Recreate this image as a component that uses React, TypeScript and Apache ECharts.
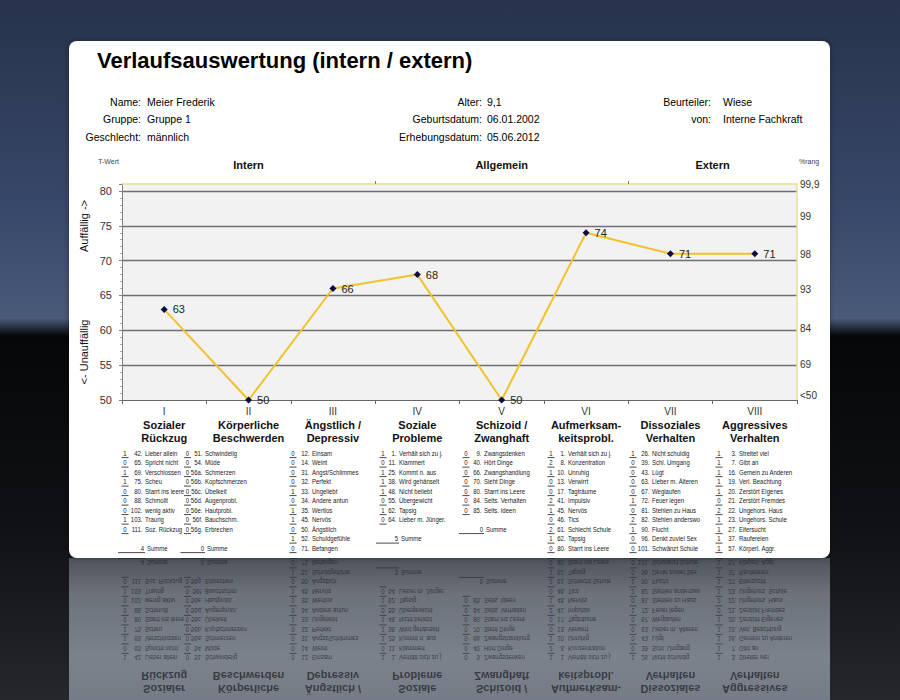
import React, { useEffect, useRef } from 'react';
import * as echarts from 'echarts';

const FONT = "'Liberation Sans', Arial, sans-serif";

const categoriesRoman = ['I', 'II', 'III', 'IV', 'V', 'VI', 'VII', 'VIII'];
const categoryNames = [
  ['Sozialer', 'Rückzug'],
  ['Körperliche', 'Beschwerden'],
  ['Ängstlich /', 'Depressiv'],
  ['Soziale', 'Probleme'],
  ['Schizoid /', 'Zwanghaft'],
  ['Aufmerksam-', 'keitsprobl.'],
  ['Dissoziales', 'Verhalten'],
  ['Aggressives', 'Verhalten'],
];
const tValues = [63, 50, 66, 68, 50, 74, 71, 71];

const rightLabels = ['<50', '69', '84', '93', '98', '99', '99,9'];
const rightLabelPos = [50.6, 55.1, 60.3, 65.9, 70.9, 76.3, 81];

const sections = ['Intern', 'Allgemein', 'Extern'];
const sectionCenters = [1.5, 4.5, 7];
const sectionBounds = [3, 6];

const infoLeftLabels = ['Name:', 'Gruppe:', 'Geschlecht:'];
const infoLeftValues = ['Meier Frederik', 'Gruppe 1', 'männlich'];
const infoMidLabels = ['Alter:', 'Geburtsdatum:', 'Erhebungsdatum:'];
const infoMidValues = ['9,1', '06.01.2002', '05.06.2012'];
const infoRightLabels = ['Beurteiler:', 'von:'];
const infoRightValues = ['Wiese', 'Interne Fachkraft'];

type Item = [number, string, string];
const colI: Item[] = [
  [1, '42.', 'Lieber allein'], [0, '65.', 'Spricht nicht'], [1, '69.', 'Verschlossen'],
  [1, '75.', 'Scheu'], [0, '80.', 'Starrt ins leere'], [0, '88.', 'Schmollt'],
  [0, '102.', 'wenig aktiv'], [1, '103.', 'Traurig'], [0, '111.', 'Soz. Rückzug'],
];
const colII: Item[] = [
  [0, '51.', 'Schwindelig'], [0, '54.', 'Müde'], [0, '56a.', 'Schmerzen'],
  [0, '56b.', 'Kopfschmerzen'], [0, '56c.', 'Übelkeit'], [0, '56d.', 'Augenprobl.'],
  [0, '56e.', 'Hautprobl.'], [0, '56f.', 'Bauchschm.'], [0, '56g.', 'Erbrechen'],
];
const colIII: Item[] = [
  [0, '12.', 'Einsam'], [0, '14.', 'Weint'], [0, '31.', 'Angst/Schlimmes'],
  [0, '32.', 'Perfekt'], [1, '33.', 'Ungeliebt'], [0, '34.', 'Andere antun'],
  [1, '35.', 'Wertlos'], [1, '45.', 'Nervös'], [0, '50.', 'Ängstlich'],
  [1, '52.', 'Schuldgefühle'], [0, '71.', 'Befangen'],
];
const colIV: Item[] = [
  [1, '1.', 'Verhält sich zu j.'], [0, '11.', 'Klammert'], [1, '25.', 'Kommt n. aus'],
  [1, '38.', 'Wird gehänselt'], [1, '48.', 'Nicht beliebt'], [0, '55.', 'Übergewicht'],
  [1, '62.', 'Tapsig'], [0, '64.', 'Lieber m. Jünger.'],
];
const colV: Item[] = [
  [0, '9.', 'Zwangsdenken'], [0, '40.', 'Hört Dinge'], [0, '66.', 'Zwangshandlung'],
  [0, '70.', 'Sieht Dinge'], [0, '80.', 'Starrt ins Leere'], [0, '84.', 'Selts. Verhalten'],
  [0, '85.', 'Selts. Ideen'],
];
const colVI: Item[] = [
  [1, '1.', 'Verhält sich zu j.'], [2, '8.', 'Konzentration'], [1, '10.', 'Unruhig'],
  [0, '13.', 'Verwirrt'], [0, '17.', 'Tagträume'], [2, '41.', 'Impulsiv'],
  [1, '45.', 'Nervös'], [0, '46.', 'Tics'], [2, '61.', 'Schlecht Schule'],
  [1, '62.', 'Tapsig'], [0, '80.', 'Starrt ins Leere'],
];
const colVII: Item[] = [
  [1, '26.', 'Nicht schuldig'], [0, '39.', 'Schl. Umgang'], [0, '43.', 'Lügt'],
  [0, '63.', 'Lieber m. Älteren'], [0, '67.', 'Weglaufen'], [1, '72.', 'Feuer legen'],
  [0, '81.', 'Stehlen zu Haus'], [2, '82.', 'Stehlen anderswo'], [1, '90.', 'Flucht'],
  [0, '96.', 'Denkt zuviel Sex'], [0, '101.', 'Schwänzt Schule'],
];
const colVIII: Item[] = [
  [1, '3.', 'Streitet viel'], [1, '7.', 'Gibt an'], [1, '16.', 'Gemein zu Anderen'],
  [1, '19.', 'Verl. Beachtung'], [1, '20.', 'Zerstört Eigenes'], [0, '21.', 'Zerstört Fremdes'],
  [2, '22.', 'Ungehors. Haus'], [1, '23.', 'Ungehors. Schule'], [1, '27.', 'Eifersucht'],
  [1, '37.', 'Raufereien'], [1, '57.', 'Körperl. Aggr.'],
];
const itemColumns = [colI, colII, colIII, colIV, colV, colVI, colVII, colVIII];

// layout of the item table
const scoreX = [125, 187.5, 293, 383, 466, 551, 633, 719];
const nameX = [145, 205, 312, 399, 484, 568, 652, 739];
const ROW_Y0 = 453;
const ROW_STEP = 9.5;
const MAX_ROWS = 11;
const LIST_FS = 7;
const LIST_SX = 0.86;
const MIRROR_Y = 555.5;

function txt(x: number, y: number, text: string, o: any = {}) {
  return {
    type: 'text', x, y, silent: true, z: o.z ?? 5, scaleX: o.sx ?? 1,
    style: {
      text, fontSize: o.size ?? LIST_FS, fontFamily: FONT, fontWeight: o.weight ?? 'normal',
      fill: o.fill ?? '#1a1a1a', textAlign: o.align ?? 'left', textVerticalAlign: 'middle',
    },
  };
}
function hline(x1: number, x2: number, y: number, color: string, z: number) {
  return { type: 'line', silent: true, z, shape: { x1, y1: y, x2, y2: y }, style: { stroke: color, lineWidth: 0.8 } };
}

function listGraphics(color: string, z: number) {
  const els: any[] = [];
  const o = (extra: any) => ({ fill: color, z, sx: LIST_SX, ...extra });
  itemColumns.forEach((col, ci) => {
    const sx = scoreX[ci];
    const nx = nameX[ci];
    col.forEach(([s, num, name], ri) => {
      const y = ROW_Y0 + ri * ROW_STEP;
      els.push(txt(sx, y, String(s), o({ align: 'center' })));
      els.push(hline(sx - 3.5, sx + 3.5, y + 4.6, color, z));
      els.push(txt(nx - 2.5, y, num, o({ align: 'right' })));
      els.push(txt(nx, y, name, o({})));
    });
    const sumRow = col.length + 1;
    if (sumRow < MAX_ROWS) {
      const y = ROW_Y0 + sumRow * ROW_STEP;
      const sum = col.reduce((a, it) => a + it[0], 0);
      els.push(txt(nx - 1, y, String(sum), o({ align: 'right' })));
      els.push(hline(sx - 7, nx, y + 4.6, color, z));
      els.push(txt(nx + 2, y, 'Summe', o({})));
    }
  });
  return els;
}

function buildOption() {
  return {
    animation: false,
    grid: { left: 122, right: 103, top: 184, bottom: 300, show: true, backgroundColor: '#f2f2f2', borderWidth: 0 },
    xAxis: [
      {
        type: 'category', data: categoriesRoman, position: 'bottom', boundaryGap: true,
        axisLine: { show: true, lineStyle: { color: '#666', width: 1 } },
        axisTick: { show: true, length: 4, lineStyle: { color: '#666' } },
        axisLabel: {
          interval: 0, margin: 5,
          formatter: (_v: string, i: number) =>
            `{r|${categoriesRoman[i]}}\n{b|${categoryNames[i][0]}}\n{b|${categoryNames[i][1]}}`,
          rich: {
            r: { fontSize: 10, color: '#333', lineHeight: 13, fontFamily: FONT },
            b: { fontSize: 11, fontWeight: 'bold', color: '#111', lineHeight: 13, fontFamily: FONT },
          },
        },
        splitLine: { show: false },
      },
      {
        type: 'value', position: 'top', min: 0, max: 8,
        axisLine: { show: true, lineStyle: { color: '#eedd8c', width: 1.5 } },
        axisTick: { show: true, customValues: sectionBounds, length: 3, lineStyle: { color: '#777' } },
        axisLabel: {
          customValues: sectionCenters, margin: 14,
          formatter: (v: number) => sections[sectionCenters.indexOf(v)] ?? '',
          fontSize: 11, fontWeight: 'bold', color: '#111', fontFamily: FONT,
        },
        splitLine: { show: false },
      },
    ],
    yAxis: [
      {
        type: 'value', min: 50, max: 81, interval: 5, position: 'left',
        name: 'T-Wert', nameLocation: 'end', nameGap: 19,
        nameTextStyle: { fontSize: 7, align: 'right', color: '#444', fontFamily: FONT, padding: [0, 3, 0, 0] },
        axisLine: { show: true, lineStyle: { color: '#808080' } },
        axisTick: { show: true, length: 3, lineStyle: { color: '#808080' } },
        minorTick: { show: true, splitNumber: 5, length: 2, lineStyle: { color: '#aaa' } },
        axisLabel: {
          formatter: (v: number) => (v > 80 ? '' : String(v)),
          fontSize: 11, color: '#333', margin: 10, fontFamily: FONT,
        },
        splitLine: { show: true, showMaxLine: false, showMinLine: false, lineStyle: { color: '#6f6f6f', width: 1.3 } },
      },
      {
        type: 'value', min: 50, max: 81, position: 'right',
        name: '%rang', nameLocation: 'end', nameGap: 19,
        nameTextStyle: { fontSize: 7, align: 'left', color: '#444', fontFamily: FONT, padding: [0, 0, 0, 2] },
        axisLine: { show: true, lineStyle: { color: '#eedd8c', width: 1.5 } },
        axisTick: { show: false },
        axisLabel: {
          customValues: rightLabelPos, margin: 3,
          formatter: (v: number) => {
            let best = 0;
            rightLabelPos.forEach((p, i) => { if (Math.abs(p - v) < Math.abs(rightLabelPos[best] - v)) best = i; });
            return rightLabels[best];
          },
          fontSize: 10, color: '#333', fontFamily: FONT,
        },
        splitLine: { show: false },
      },
    ],
    series: [
      {
        type: 'line', xAxisIndex: 0, yAxisIndex: 0, data: tValues, clip: false,
        symbol: 'diamond', symbolSize: 7,
        lineStyle: { color: '#f2c12e', width: 2 },
        itemStyle: { color: '#0b0b45' },
        label: { show: true, position: 'right', distance: 5, fontSize: 11, color: '#222', fontFamily: FONT },
        z: 5,
      },
    ],
  };
}

export default function App() {
  const ref = useRef<HTMLDivElement>(null);
  useEffect(() => {
    if (!ref.current) return;
    const chart = echarts.init(ref.current, undefined, { renderer: 'svg' });
    chart.setOption(buildOption() as any);

    const centers = categoriesRoman.map((_, i) => chart.convertToPixel({ xAxisIndex: 0 }, i) as number);

    const els: any[] = [];
    // background
    els.push({
      type: 'rect', silent: true, z: -20, shape: { x: 0, y: 0, width: 900, height: 700 },
      style: {
        fill: new echarts.graphic.LinearGradient(0, 0, 0, 1, [
          { offset: 0, color: '#27334b' },
          { offset: 0.3, color: '#38486a' },
          { offset: 0.455, color: '#4a5a79' },
          { offset: 0.48, color: '#060709' },
          { offset: 0.75, color: '#101114' },
          { offset: 1, color: '#25272b' },
        ]),
      },
    });
    // reflection surface
    els.push({
      type: 'rect', silent: true, z: -19, shape: { x: 69, y: 558, width: 761, height: 142 },
      style: {
        fill: new echarts.graphic.LinearGradient(0, 0, 0, 1, [
          { offset: 0, color: '#4f545c' },
          { offset: 0.25, color: '#6c717a' },
          { offset: 0.7, color: '#7c828c' },
          { offset: 1, color: '#767c87' },
        ]),
      },
    });
    // reflected content (mirror image of the lower card part)
    const refColor = 'rgba(28,32,38,0.72)';
    const refChildren: any[] = [...listGraphics(refColor, -18)];
    centers.forEach((cx, i) => {
      refChildren.push(txt(cx, 422.5, categoryNames[i][0], { size: 11, weight: 'bold', align: 'center', fill: refColor, z: -18 }));
      refChildren.push(txt(cx, 435.5, categoryNames[i][1], { size: 11, weight: 'bold', align: 'center', fill: refColor, z: -18 }));
    });
    els.push({ type: 'group', x: 0, y: MIRROR_Y * 2, scaleY: -1, silent: true, children: refChildren });
    // card
    els.push({
      type: 'rect', silent: true, z: -17, shape: { x: 69, y: 41, width: 761, height: 517, r: 8 },
      style: { fill: '#ffffff', shadowBlur: 6, shadowColor: 'rgba(0,0,0,0.35)' },
    });
    // title
    els.push(txt(97, 60, 'Verlaufsauswertung (intern / extern)', { size: 22, weight: 'bold', fill: '#000' }));
    // info block
    const infoY = [101.5, 119, 136.5];
    infoLeftLabels.forEach((l, i) => {
      els.push(txt(141, infoY[i], l, { size: 10.5, align: 'right', fill: '#000' }));
      els.push(txt(147, infoY[i], infoLeftValues[i], { size: 10.5, fill: '#000' }));
    });
    infoMidLabels.forEach((l, i) => {
      els.push(txt(482, infoY[i], l, { size: 10.5, align: 'right', fill: '#000' }));
      els.push(txt(487, infoY[i], infoMidValues[i], { size: 10.5, fill: '#000' }));
    });
    infoRightLabels.forEach((l, i) => {
      els.push(txt(711, infoY[i], l, { size: 10.5, align: 'right', fill: '#000' }));
      els.push(txt(723, infoY[i], infoRightValues[i], { size: 10.5, fill: '#000' }));
    });
    // vertical axis captions
    els.push({ ...txt(84, 226, 'Auffällig ->', { size: 11, align: 'center', fill: '#111' }), rotation: Math.PI / 2 });
    els.push({ ...txt(84, 352, '<- Unauffällig', { size: 11, align: 'center', fill: '#111' }), rotation: Math.PI / 2 });
    // item table
    els.push(...listGraphics('#1a1a1a', 5));

    chart.setOption({ graphic: { elements: els } } as any);
    return () => chart.dispose();
  }, []);
  return <div ref={ref} style={{ position: 'absolute', left: 0, top: 0, width: 900, height: 700 }} />;
}
